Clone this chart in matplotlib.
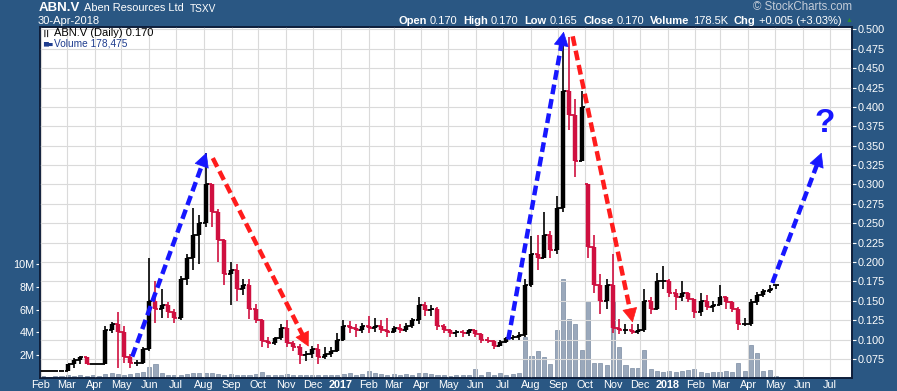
import matplotlib
matplotlib.use('Agg')
import matplotlib.pyplot as plt
import matplotlib.dates as mdates
import numpy as np
import pandas as pd

plt.rcParams['font.family'] = ['Liberation Sans', 'DejaVu Sans']

# weekly bars, Feb 2016 - Apr 2018
weeks = pd.date_range('2016-02-01', '2018-04-30', freq='7D')

opens = [0.060, 0.060, 0.060, 0.060, 0.060, 0.068, 0.074, 0.078, 0.069, 0.069,
         0.069, 0.112, 0.120, 0.110, 0.078, 0.070, 0.070, 0.088, 0.150, 0.140,
         0.145, 0.135, 0.128, 0.178, 0.205, 0.235, 0.250, 0.300, 0.265, 0.228,
         0.185, 0.190, 0.165, 0.170, 0.140, 0.125, 0.098, 0.095, 0.102, 0.115,
         0.095, 0.090, 0.080, 0.082, 0.088, 0.078, 0.082, 0.085, 0.100, 0.118,
         0.115, 0.112, 0.118, 0.115, 0.118, 0.113, 0.110, 0.115, 0.113, 0.118,
         0.125, 0.145, 0.138, 0.140, 0.118, 0.112, 0.108, 0.110, 0.108, 0.112,
         0.107, 0.099, 0.098, 0.092, 0.097, 0.102, 0.104, 0.106, 0.170, 0.210,
         0.205, 0.235, 0.215, 0.270, 0.420, 0.390, 0.330, 0.300, 0.220, 0.170,
         0.150, 0.170, 0.115, 0.112, 0.113, 0.110, 0.113, 0.150, 0.140, 0.175,
         0.175, 0.160, 0.155, 0.160, 0.152, 0.135, 0.150, 0.142, 0.145, 0.155,
         0.148, 0.140, 0.120, 0.120, 0.148, 0.158, 0.163, 0.170]
highs = [0.060, 0.060, 0.060, 0.060, 0.068, 0.076, 0.079, 0.078, 0.069, 0.069,
         0.118, 0.123, 0.135, 0.118, 0.082, 0.074, 0.090, 0.205, 0.175, 0.165,
         0.148, 0.140, 0.182, 0.210, 0.270, 0.260, 0.340, 0.300, 0.268, 0.230,
         0.200, 0.198, 0.178, 0.178, 0.146, 0.126, 0.104, 0.104, 0.120, 0.125,
         0.098, 0.094, 0.085, 0.092, 0.094, 0.090, 0.090, 0.108, 0.125, 0.124,
         0.120, 0.122, 0.130, 0.128, 0.125, 0.128, 0.118, 0.120, 0.122, 0.128,
         0.155, 0.148, 0.145, 0.142, 0.120, 0.114, 0.112, 0.112, 0.114, 0.112,
         0.108, 0.103, 0.100, 0.100, 0.104, 0.106, 0.110, 0.178, 0.233, 0.235,
         0.265, 0.240, 0.285, 0.488, 0.490, 0.410, 0.420, 0.300, 0.235, 0.185,
         0.178, 0.210, 0.126, 0.120, 0.120, 0.120, 0.165, 0.155, 0.186, 0.195,
         0.178, 0.165, 0.175, 0.162, 0.152, 0.160, 0.157, 0.150, 0.170, 0.156,
         0.150, 0.142, 0.128, 0.152, 0.162, 0.165, 0.170, 0.170]
lows = [0.060, 0.060, 0.060, 0.060, 0.060, 0.064, 0.069, 0.069, 0.069, 0.069,
        0.069, 0.108, 0.064, 0.070, 0.064, 0.066, 0.068, 0.085, 0.122, 0.128,
        0.128, 0.122, 0.125, 0.170, 0.190, 0.198, 0.245, 0.245, 0.200, 0.170,
        0.145, 0.150, 0.158, 0.126, 0.122, 0.090, 0.089, 0.093, 0.100, 0.090,
        0.085, 0.068, 0.073, 0.076, 0.068, 0.075, 0.078, 0.084, 0.098, 0.108,
        0.104, 0.108, 0.108, 0.110, 0.108, 0.104, 0.108, 0.108, 0.110, 0.115,
        0.120, 0.130, 0.130, 0.113, 0.108, 0.104, 0.104, 0.104, 0.105, 0.104,
        0.096, 0.095, 0.088, 0.092, 0.095, 0.100, 0.100, 0.103, 0.168, 0.190,
        0.205, 0.205, 0.210, 0.265, 0.370, 0.310, 0.330, 0.205, 0.160, 0.133,
        0.140, 0.108, 0.107, 0.107, 0.107, 0.107, 0.110, 0.133, 0.138, 0.165,
        0.155, 0.138, 0.150, 0.148, 0.128, 0.130, 0.138, 0.136, 0.145, 0.140,
        0.135, 0.113, 0.117, 0.118, 0.145, 0.155, 0.160, 0.165]
closes = [0.060, 0.060, 0.060, 0.060, 0.068, 0.074, 0.078, 0.069, 0.069, 0.069,
          0.112, 0.120, 0.110, 0.078, 0.070, 0.070, 0.088, 0.150, 0.140, 0.145,
          0.135, 0.128, 0.178, 0.205, 0.235, 0.250, 0.300, 0.265, 0.228, 0.185,
          0.190, 0.165, 0.170, 0.140, 0.125, 0.098, 0.095, 0.102, 0.115, 0.095,
          0.090, 0.080, 0.082, 0.088, 0.078, 0.082, 0.085, 0.100, 0.118, 0.115,
          0.112, 0.118, 0.115, 0.118, 0.113, 0.110, 0.115, 0.113, 0.118, 0.125,
          0.145, 0.138, 0.140, 0.118, 0.112, 0.108, 0.110, 0.108, 0.112, 0.107,
          0.099, 0.098, 0.092, 0.097, 0.102, 0.104, 0.106, 0.170, 0.210, 0.205,
          0.235, 0.215, 0.270, 0.420, 0.390, 0.330, 0.400, 0.220, 0.170, 0.150,
          0.170, 0.115, 0.112, 0.113, 0.110, 0.113, 0.150, 0.140, 0.175, 0.175,
          0.160, 0.155, 0.160, 0.152, 0.135, 0.150, 0.142, 0.145, 0.155, 0.148,
          0.140, 0.120, 0.120, 0.148, 0.158, 0.163, 0.165, 0.170]
# volume in millions (tallest daily bar of each week)
volume_m = [0.15, 0.12, 0.15, 0.18,
            0.25, 0.2, 0.3, 0.2, 0.25, 0.2,
            0.35, 0.4, 0.35, 0.3, 0.35, 0.4, 0.5,
            1.0, 1.25,
            0.4, 0.3, 0.3, 0.3, 0.35, 0.45, 0.4, 0.45, 0.4, 0.35, 0.3, 0.35,
            0.3, 0.25, 0.3, 0.35, 0.5, 0.3, 0.25, 0.3, 0.35, 0.3, 0.25, 0.3, 0.3, 0.25, 0.3, 0.25, 0.3,
            0.35, 0.4, 0.3, 0.35, 0.65, 0.4, 0.35, 0.3, 0.35, 0.3, 0.35, 0.3, 0.45, 0.4, 0.35, 0.3,
            0.25, 0.2, 0.25, 0.3, 0.25, 0.8, 0.3, 0.55, 0.3, 0.4, 0.3, 0.35, 0.45,
            3.6, 1.9, 2.4, 1.8, 1.2, 4.2, 8.7, 5.2, 4.7, 2.5, 6.8, 1.3, 1.3, 1.1, 6.8,
            2.7, 1.1, 0.9, 0.9, 2.5, 0.8, 0.6, 0.5, 0.6, 0.5, 0.6, 0.7, 0.8, 0.5, 0.4,
            0.5, 0.5, 0.6, 0.5, 1.3, 0.6, 2.9, 2.2, 0.6, 0.7, 0.18]

price_ticks = [0.075, 0.100, 0.125, 0.150, 0.175, 0.200, 0.225, 0.250, 0.275,
               0.300, 0.325, 0.350, 0.375, 0.400, 0.425, 0.450, 0.475, 0.500]
vol_ticks = [2, 4, 6, 8, 10]
vol_labels = ['2M', '4M', '6M', '8M', '10M']
months = pd.date_range('2016-02-01', '2018-07-01', freq='MS')

# hand drawn arrows: start date, start price, end date, end price, colour
arrows = [('2016-05-13', 0.078, '2016-08-04', 0.341, '#1717ff'),
          ('2016-08-11', 0.334, '2016-11-26', 0.091, '#ff1c1c'),
          ('2017-07-07', 0.100, '2017-09-07', 0.497, '#1717ff'),
          ('2017-09-17', 0.491, '2017-11-23', 0.122, '#ff1c1c'),
          ('2018-04-28', 0.173, '2018-06-22', 0.341, '#1717ff')]

W, H = 897, 391
bg = '#2a5783'
frame = '#0e1e3a'

fig = plt.figure(figsize=(W / 100, H / 100), dpi=100, facecolor=bg)
ax = fig.add_axes([40 / W, 13 / H, 812 / W, 351 / H])
axv = ax.twinx()
ax.set_zorder(2)
axv.set_zorder(1)
ax.patch.set_visible(False)
axv.patch.set_facecolor('white')
axv.patch.set_visible(True)

x = mdates.date2num(weeks) + 2
o = np.array(opens)
h = np.array(highs)
l = np.array(lows)
c = np.array(closes)
cols = np.where(c >= o, 'black', '#cf1040')

# volume behind the price bars
axv.bar(x, volume_m, width=4.5, color='#9aa8bb', edgecolor='#7b8ca3', linewidth=0.5)
axv.set_ylim(0, 30.8)
axv.set_yticks(vol_ticks)
axv.set_yticklabels(vol_labels)
axv.yaxis.tick_left()
axv.tick_params(axis='y', colors='white', labelsize=7.8, length=3, pad=1)

ax.vlines(x, l, h, colors=cols, linewidth=1.2)
ax.vlines(x, np.minimum(o, c), np.maximum(o, c), colors=cols, linewidth=3.2)
ax.hlines(o, x - 3.3, x, colors=cols, linewidth=1.3)
ax.hlines(c, x, x + 3.3, colors=cols, linewidth=1.3)

ax.set_xlim(mdates.date2num(pd.Timestamp('2016-01-31')), mdates.date2num(pd.Timestamp('2018-07-26')))
ax.set_ylim(0.0505, 0.503)
ax.yaxis.tick_right()
ax.set_yticks(price_ticks)
ax.set_yticklabels(['%.3f' % t for t in price_ticks])
ax.tick_params(axis='y', colors='white', labelsize=7.8, length=3, pad=1)

ax.set_xticks(mdates.date2num(months))
ax.set_xticklabels([m.strftime('%b') if m.month != 1 else str(m.year) for m in months])
ax.tick_params(axis='x', colors='white', labelsize=7.8, length=0, pad=1.5)
for lab, m in zip(ax.get_xticklabels(), months):
    if m.month == 1:
        lab.set_fontweight('bold')
        lab.set_fontsize(7.8)
axv.tick_params(axis='x', length=0)

ax.set_axisbelow(True)
ax.grid(True, color='#dadada', linewidth=0.8)
for a in (ax, axv):
    for s in a.spines.values():
        s.set_color(frame)
        s.set_linewidth(1.2)

# arrows: dashed shaft plus a solid head
fig.canvas.draw()
inv = ax.transData.inverted()
for d0, p0, d1, p1, col in arrows:
    a0 = ax.transData.transform((mdates.date2num(pd.Timestamp(d0)), p0))
    a1 = ax.transData.transform((mdates.date2num(pd.Timestamp(d1)), p1))
    u = (a1 - a0) / np.hypot(*(a1 - a0))
    s_end = inv.transform(a1 - u * 9)
    h_back = inv.transform(a1 - u * 14)
    s_start = inv.transform(a0)
    ax.plot([s_start[0], s_end[0]], [s_start[1], s_end[1]], color=col, linewidth=3.2,
            linestyle=(0, (2.2, 1.1)), solid_capstyle='butt', dash_capstyle='butt', zorder=5)
    ax.annotate('', xy=inv.transform(a1), xytext=h_back,
                arrowprops=dict(arrowstyle='-|>,head_length=0.95,head_width=0.5',
                                mutation_scale=10, color=col, linewidth=0.5,
                                shrinkA=0, shrinkB=0), zorder=6)

ax.text(mdates.date2num(pd.Timestamp('2018-06-25')), 0.379, '?', color='#1717ff',
        fontsize=24, fontweight='bold', ha='center', va='center', zorder=6)

# header
fig.text(39 / W, 1 - 8 / H, 'ABN.V', color='white', fontsize=9.5, fontweight='bold', va='center')
fig.text(84 / W, 1 - 8 / H, 'Aben Resources Ltd', color='white', fontsize=7.9, va='center')
fig.text(190 / W, 1 - 8.5 / H, 'TSXV', color='white', fontsize=7.3, va='center')
fig.text(38 / W, 1 - 21 / H, '30-Apr-2018', color='white', fontsize=8, va='center')
fig.text(852 / W, 1 - 7 / H, '\u00a9 StockCharts.com', color='#c3ccd8', fontsize=8.3,
         ha='right', va='center')

info = [('Open', '0.170'), ('High', '0.170'), ('Low', '0.165'), ('Close', '0.170'),
        ('Volume', '178.5K'), ('Chg', '+0.005 (+3.03%)')]
renderer = fig.canvas.get_renderer()
xpos = 398
for lab, val in info:
    t = fig.text(xpos / W, 1 - 21 / H, lab, color='white', fontsize=8, fontweight='bold', va='center')
    xpos += t.get_window_extent(renderer).width + 3
    t = fig.text(xpos / W, 1 - 21 / H, val, color='white', fontsize=8, va='center')
    xpos += t.get_window_extent(renderer).width + 6
fig.text((xpos - 2) / W, 1 - 20 / H, '\u25b2', color='#2f8a2f', fontsize=5, va='center')

# legend inside the plot
ax.text(54 / W, 1 - 33 / H, 'ABN.V (Daily) 0.170', transform=fig.transFigure, color='black',
        fontsize=8, va='center')
ax.text(54 / W, 1 - 44 / H, 'Volume 178,475', transform=fig.transFigure, color='#1f3d8f',
        fontsize=7.3, va='center')
ax.text(43 / W, 1 - 33 / H, '\u2503\u2503', transform=fig.transFigure, color='black',
        fontsize=4.5, va='center', family='DejaVu Sans')
ax.text(43 / W, 1 - 44 / H, '\u2586\u2584', transform=fig.transFigure, color='#1f3d8f',
        fontsize=4.5, va='center', family='DejaVu Sans')

fig.savefig('out.png', dpi=100, facecolor=bg)
